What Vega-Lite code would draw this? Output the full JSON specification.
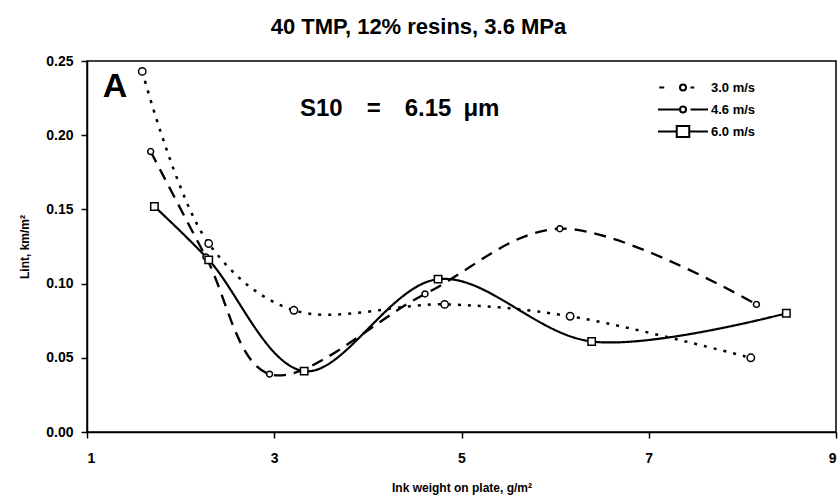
{
  "$schema": "https://vega.github.io/schema/vega-lite/v6.json",
  "width": 749,
  "height": 371,
  "autosize": {"type": "none"},
  "padding": {"left": 87, "top": 61, "right": 2, "bottom": 65},
  "title": {
    "text": "40 TMP, 12% resins, 3.6 MPa",
    "font": "Liberation Sans Narrow, Liberation Sans",
    "fontSize": 22,
    "fontWeight": "bold",
    "color": "black",
    "offset": 15,
    "anchor": "middle",
    "dx": -43
  },
  "config": {
    "view": {"stroke": "black", "strokeWidth": 1.5},
    "axis": {
      "grid": false,
      "domainColor": "black",
      "domainWidth": 1.5,
      "tickColor": "black",
      "tickWidth": 1.5,
      "tickSize": 6,
      "labelColor": "black",
      "titleColor": "black",
      "labelFont": "Liberation Sans",
      "titleFont": "Liberation Sans Narrow, Liberation Sans",
      "labelFontWeight": "bold",
      "titleFontWeight": "bold"
    }
  },
  "data": {
    "values": [
      {"series": "3.0 m/s", "x": 1.59, "y": 0.243},
      {"series": "3.0 m/s", "x": 2.30, "y": 0.127},
      {"series": "3.0 m/s", "x": 3.21, "y": 0.082},
      {"series": "3.0 m/s", "x": 4.82, "y": 0.086},
      {"series": "3.0 m/s", "x": 6.16, "y": 0.078},
      {"series": "3.0 m/s", "x": 8.09, "y": 0.050},
      {"series": "4.6 m/s", "x": 1.68, "y": 0.189},
      {"series": "4.6 m/s", "x": 2.27, "y": 0.118},
      {"series": "4.6 m/s", "x": 2.95, "y": 0.039},
      {"series": "4.6 m/s", "x": 4.61, "y": 0.093},
      {"series": "4.6 m/s", "x": 6.05, "y": 0.137},
      {"series": "4.6 m/s", "x": 8.15, "y": 0.086},
      {"series": "6.0 m/s", "x": 1.72, "y": 0.152},
      {"series": "6.0 m/s", "x": 2.30, "y": 0.116},
      {"series": "6.0 m/s", "x": 3.32, "y": 0.041},
      {"series": "6.0 m/s", "x": 4.75, "y": 0.103},
      {"series": "6.0 m/s", "x": 6.39, "y": 0.061},
      {"series": "6.0 m/s", "x": 8.47, "y": 0.080}
    ]
  },
  "encoding": {
    "x": {
      "field": "x", "type": "quantitative",
      "scale": {"domain": [1, 9], "nice": false},
      "axis": {"values": [1, 3, 5, 7, 9], "title": "Ink weight on plate, g/m²", "labelFontSize": 14, "labelFont": "Liberation Sans Narrow, Liberation Sans", "labelPadding": 13, "titleFontSize": 12, "titlePadding": 17}
    },
    "y": {
      "field": "y", "type": "quantitative",
      "scale": {"domain": [0, 0.25], "nice": false},
      "axis": {"values": [0, 0.05, 0.1, 0.15, 0.2, 0.25], "format": ".2f", "title": "Lint, km/m²", "labelFontSize": 14, "titleFontSize": 12, "titlePadding": 14, "labelPadding": 8}
    }
  },
  "layer": [
    {
      "mark": {"type": "line", "interpolate": "catmull-rom", "color": "black"},
      "encoding": {
        "strokeDash": {
          "field": "series", "type": "nominal",
          "scale": {"domain": ["3.0 m/s", "4.6 m/s", "6.0 m/s"], "range": [[3, 7], [12, 8], [1, 0]]},
          "legend": null
        },
        "strokeWidth": {
          "field": "series", "type": "nominal",
          "scale": {"domain": ["3.0 m/s", "4.6 m/s", "6.0 m/s"], "range": [2.5, 2.2, 2.6]},
          "legend": null
        }
      }
    },
    {
      "mark": {"type": "point", "filled": false, "fill": "white", "fillOpacity": 1, "stroke": "black", "strokeWidth": 1.5, "opacity": 1, "size": 55},
      "encoding": {
        "shape": {
          "field": "series", "type": "nominal",
          "scale": {"domain": ["3.0 m/s", "4.6 m/s", "6.0 m/s"], "range": ["circle", "M0.8,0A0.8,0.8 0 1,1 -0.8,0A0.8,0.8 0 1,1 0.8,0", "square"]},
          "legend": null
        }
      }
    },
    {
      "mark": {"type": "point", "filled": false, "stroke": "black", "strokeWidth": 2, "opacity": 0, "size": 10},
      "encoding": {
        "shape": {
          "field": "series", "type": "nominal",
          "scale": {"domain": ["3.0 m/s", "4.6 m/s", "6.0 m/s"], "range": [
            "M-0.95,0H-0.75 M0.3,0H0.45 M0.12,0A0.12,0.12 0 1,1 -0.12,0A0.12,0.12 0 1,1 0.12,0",
            "M-1,0H-0.12 M0.3,0H1 M0.12,0A0.12,0.12 0 1,1 -0.12,0A0.12,0.12 0 1,1 0.12,0",
            "M-1,0H-0.25 M0.25,0H1 M-0.25,-0.22H0.25V0.22H-0.25Z"
          ]},
          "legend": {
            "title": null,
            "orient": "none",
            "legendX": 570,
            "legendY": 16,
            "symbolSize": 2500,
            "symbolOpacity": 1,
            "symbolStrokeColor": "black",
            "symbolStrokeWidth": 2,
            "symbolFillColor": "white",
            "clipHeight": 21,
            "labelFont": "Liberation Sans",
            "labelFontSize": 13,
            "labelFontWeight": "bold",
            "labelColor": "black",
            "labelOffset": 2,
            "rowPadding": 1
          }
        }
      }
    },
    {
      "data": {"values": [{"x": 1.3, "y": 0.226, "label": "A"}]},
      "mark": {"type": "text", "font": "Liberation Sans", "fontSize": 34, "fontWeight": "bold", "color": "black", "baseline": "alphabetic", "align": "center"},
      "encoding": {"text": {"field": "label"}}
    },
    {
      "data": {"values": [{"x": 4.34, "y": 0.213, "label": "S10\u2003=\u20036.15\u2002μm"}]},
      "mark": {"type": "text", "font": "Liberation Sans", "fontSize": 24, "fontWeight": "bold", "color": "black", "baseline": "alphabetic", "align": "center"},
      "encoding": {"text": {"field": "label"}}
    }
  ],
  "resolve": {"scale": {"shape": "independent"}}
}
